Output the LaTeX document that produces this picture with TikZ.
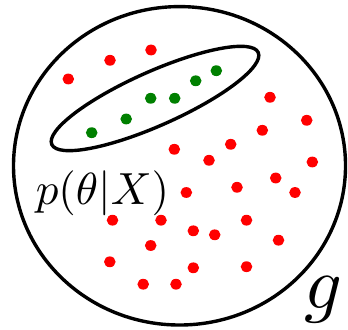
\documentclass[tikz,border=0pt]{standalone}
\usepackage{graphicx}
\usepackage{tikz}
\usetikzlibrary{shapes.geometric}
\definecolor{dotred}{RGB}{255,0,0}
\definecolor{dotgreen}{RGB}{0,128,0}

\begin{document}
\begin{tikzpicture}[
    x=0.25pt, y=-0.25pt,
    setshape/.style={ellipse, draw=black, line width=0.85pt, inner sep=0pt},
    reddot/.style={ellipse, fill=dotred, minimum width=2.9pt, minimum height=2.7pt, inner sep=0pt},
    greendot/.style={ellipse, fill=dotgreen, minimum width=2.9pt, minimum height=2.7pt, inner sep=0pt},
    setlabel/.style={inner sep=0pt, anchor=base west}
]
    \useasboundingbox (0,0) rectangle (348,329);

    % the whole set and the posterior region
    \node[setshape, minimum width=83pt, minimum height=79.6pt] (g) at (179.5,165.8) {};
    \node[setshape, minimum width=56.5pt, minimum height=13.5pt, rotate=24] (post) at (155,98.5) {};

    % samples outside
    \foreach \px/\py [count=\i] in {151/50, 110/60.3, 68.3/79, 270/97.3, 306.7/120.3,
        262.3/130.3, 230.7/144.3, 174.3/149.3, 209/160.3, 312.3/162,
        275.7/178, 237/187.3, 186.3/192.5, 295/192.5, 112.5/220.2,
        161/220.2, 246.5/220.2, 193.3/230.8, 214.7/234.8, 278.5/240.2,
        150.7/245.5, 109.8/261.8, 193.3/267.8, 246.5/266.7, 143.2/284.2,
        176/284.2}
        \node[reddot] (r\i) at (\px,\py) {};

    % samples inside
    \foreach \px/\py [count=\i] in {91.7/132.7, 126.2/119, 150.7/98.3, 174.7/98.3,
        195.7/80.8, 216.3/70.7}
        \node[greendot] (s\i) at (\px,\py) {};

    \node[setlabel] (postlabel) at (35,204) {\scalebox{1.125}{$p(\theta|X)$}};
    \node[setlabel] (glabel) at (304,308.6) {\scalebox{1.85}{$g$}};
\end{tikzpicture}
\end{document}
